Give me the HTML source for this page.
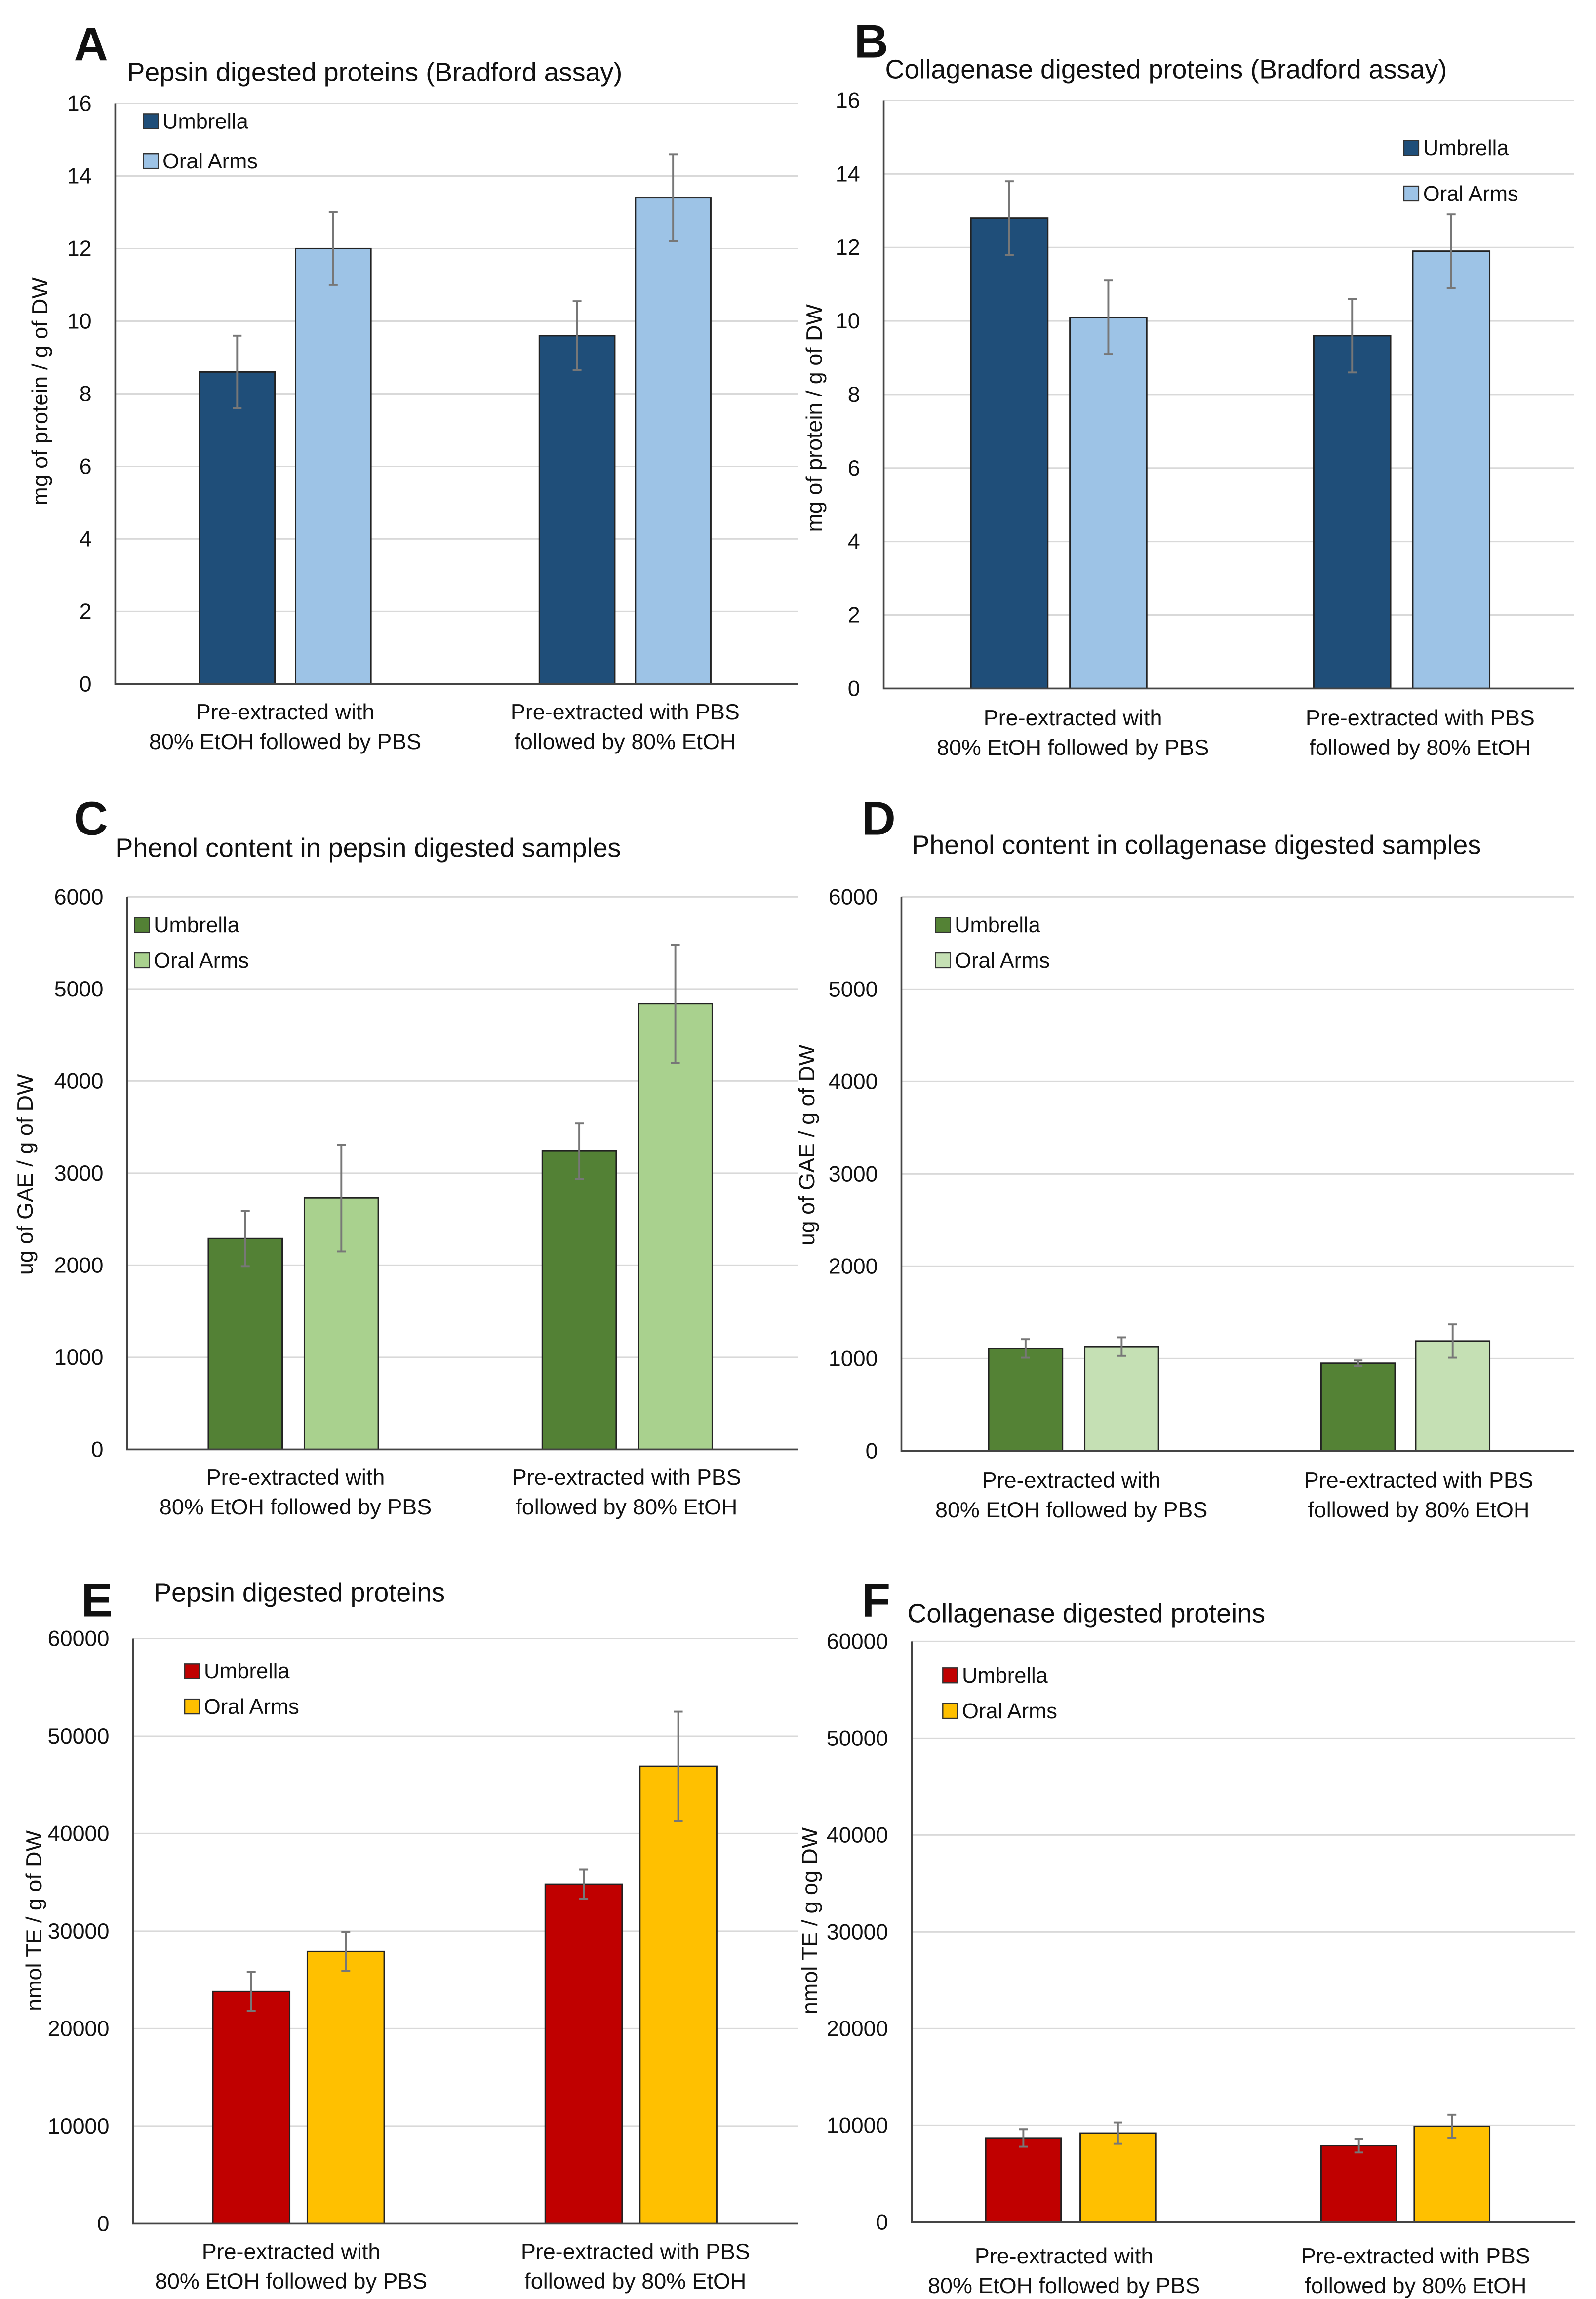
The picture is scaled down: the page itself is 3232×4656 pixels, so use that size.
<!DOCTYPE html>
<html><head><meta charset="utf-8"><style>html,body{margin:0;padding:0;background:#fff}svg{display:block}text{font-family:"Liberation Sans",sans-serif;fill:#111}</style></head>
<body>
<svg id="fig" width="3232" height="4656" viewBox="0 0 1080 1556" preserveAspectRatio="none" xmlns="http://www.w3.org/2000/svg"></svg>
<script>
// Data arrays
const categories = ["Pre-extracted with|80% EtOH followed by PBS", "Pre-extracted with PBS|followed by 80% EtOH"];
const seriesNames = ["Umbrella", "Oral Arms"];
const aUmbrella = [8.6, 9.6];       const aUmbrellaErr = [1.0, 0.95];
const aOral = [12.0, 13.4];         const aOralErr = [1.0, 1.2];
const bUmbrella = [12.8, 9.6];      const bUmbrellaErr = [1.0, 1.0];
const bOral = [10.1, 11.9];         const bOralErr = [1.0, 1.0];
const cUmbrella = [2290, 3240];     const cUmbrellaErr = [300, 300];
const cOral = [2730, 4840];         const cOralErr = [580, 640];
const dUmbrella = [1110, 950];      const dUmbrellaErr = [100, 30];
const dOral = [1130, 1190];         const dOralErr = [100, 180];
const eUmbrella = [23800, 34800];   const eUmbrellaErr = [2000, 1500];
const eOral = [27900, 46900];       const eOralErr = [2000, 5600];
const fUmbrella = [8700, 7900];     const fUmbrellaErr = [900, 700];
const fOral = [9200, 9900];         const fOralErr = [1100, 1200];
const ticksProtein = [0, 2, 4, 6, 8, 10, 12, 14, 16];
const ticksPhenol = [0, 1000, 2000, 3000, 4000, 5000, 6000];
const ticksTE = [0, 10000, 20000, 30000, 40000, 50000, 60000];

const NS = "http://www.w3.org/2000/svg";
const svg = document.getElementById('fig');
function el(tag, attrs, parent, txt) {
  const e = document.createElementNS(NS, tag);
  for (const k in attrs) e.setAttribute(k, attrs[k]);
  if (txt !== undefined) e.textContent = txt;
  (parent || svg).appendChild(e);
  return e;
}

const panels = [
  {id:"a", letter:"A", lx:50, ly:41, title:"Pepsin digested proteins (Bradford assay)", tx:86, ty:55,
   x0:78, x1:540, yTop:70, yBot:463, ticks:ticksProtein, max:16, ylab:"mg of protein / g of DW", ylx:32, yly:265,
   u:aUmbrella, ue:aUmbrellaErr, o:aOral, oe:aOralErr, bars:[[135,200],[365,430]], bw:51,
   cu:"#1F4E79", co:"#9DC3E6", legX:102, legY:[82,109], catX:[193,423], catY:485},
  {id:"b", letter:"B", lx:578, ly:39, title:"Collagenase digested proteins (Bradford assay)", tx:599, ty:53,
   x0:598, x1:1065, yTop:68, yBot:466, ticks:ticksProtein, max:16, ylab:"mg  of protein / g of DW", ylx:556, yly:283,
   u:bUmbrella, ue:bUmbrellaErr, o:bOral, oe:bOralErr, bars:[[657,724],[889,956]], bw:52,
   cu:"#1F4E79", co:"#9DC3E6", legX:955, legY:[100,131], catX:[726,961], catY:489},
  {id:"c", letter:"C", lx:50, ly:565, title:"Phenol content in pepsin digested samples", tx:78, ty:580,
   x0:86, x1:540, yTop:607, yBot:981, ticks:ticksPhenol, max:6000, ylab:"ug of GAE / g of DW", ylx:22, yly:795,
   u:cUmbrella, ue:cUmbrellaErr, o:cOral, oe:cOralErr, bars:[[141,206],[367,432]], bw:50,
   cu:"#538135", co:"#A9D18E", legX:96, legY:[626,650], catX:[200,424], catY:1003},
  {id:"d", letter:"D", lx:583, ly:565, title:"Phenol content in collagenase digested samples", tx:617, ty:578,
   x0:610, x1:1065, yTop:607, yBot:982, ticks:ticksPhenol, max:6000, ylab:"ug of GAE / g of DW", ylx:551, yly:775,
   u:dUmbrella, ue:dUmbrellaErr, o:dOral, oe:dOralErr, bars:[[669,734],[894,958]], bw:50,
   cu:"#548235", co:"#C5E0B4", legX:638, legY:[626,650], catX:[725,960], catY:1005},
  {id:"e", letter:"E", lx:55, ly:1094, title:"Pepsin digested proteins", tx:104, ty:1084,
   x0:90, x1:540, yTop:1109, yBot:1505, ticks:ticksTE, max:60000, ylab:"nmol TE / g of DW", ylx:28, yly:1300,
   u:eUmbrella, ue:eUmbrellaErr, o:eOral, oe:eOralErr, bars:[[144,208],[369,433]], bw:52,
   cu:"#C00000", co:"#FFC000", legX:130, legY:[1131,1155], catX:[197,430], catY:1527},
  {id:"f", letter:"F", lx:583, ly:1094, title:"Collagenase digested proteins", tx:614, ty:1098,
   x0:617, x1:1066, yTop:1111, yBot:1504, ticks:ticksTE, max:60000, ylab:"nmol TE /  g og DW", ylx:553, yly:1300,
   u:fUmbrella, ue:fUmbrellaErr, o:fOral, oe:fOralErr, bars:[[667,731],[894,957]], bw:51,
   cu:"#C00000", co:"#FFC000", legX:643, legY:[1134,1158], catX:[720,958], catY:1530}
];

panels.forEach(p => {
  const g = el('g', {});
  
  
  const y = v => p.yBot - (v / p.max) * (p.yBot - p.yTop);
  const L = el('text', {x:p.lx, y:p.ly, 'font-size':32, 'font-weight':'bold'}, g, p.letter);
  
  
  const T = el('text', {x:p.tx, y:p.ty, 'font-size':18}, g, p.title);
  
  
  p.ticks.forEach(t => {
    if (t > 0) {
      const gl = el('line', {x1:p.x0, x2:p.x1, y1:y(t), y2:y(t), stroke:'#d9d9d9', 'stroke-width':1}, g);
      
      
    }
    const tl = el('text', {x:p.x0 - 16, y:y(t) + 5, 'font-size':15, 'text-anchor':'end'}, g, String(t));
    
    
  });
  const yt = el('text', {x:p.ylx, y:p.yly, 'font-size':15, 'text-anchor':'middle', transform:`rotate(-90 ${p.ylx} ${p.yly})`}, g, p.ylab);
  
  
  [0, 1].forEach(i => {
    [[p.u, p.ue, p.cu, 'umbrella'], [p.o, p.oe, p.co, 'oral-arms']].forEach((s, j) => {
      const bx = p.bars[i][j];
      const r = el('rect', {x:bx, y:y(s[0][i]), width:p.bw, height:p.yBot - y(s[0][i]), fill:s[2], stroke:'#222', 'stroke-width':1}, g);
      
      
      const cx = bx + p.bw / 2;
      const hi = y(s[0][i] + s[1][i]), lo = y(s[0][i] - s[1][i]);
      const eb = el('path', {d:`M${cx},${hi}V${lo}M${cx-3},${hi}H${cx+3}M${cx-3},${lo}H${cx+3}`, stroke:'#777', 'stroke-width':1.3, fill:'none'}, g);
      
      
    });
    const lines = categories[i].split('|');
    lines.forEach((ln, k) => {
      const ct = el('text', {x:p.catX[i], y:p.catY + k * 20 + 2, 'font-size':15, 'text-anchor':'middle'}, g, ln);
      
      
    });
  });
  const ax = el('path', {d:`M${p.x0},${p.yTop}V${p.yBot}H${p.x1}`, stroke:'#444', 'stroke-width':1.2, fill:'none'}, g);
  
  
  [p.cu, p.co].forEach((c, j) => {
    const le = el('g', {}, g);
    
    
    el('rect', {x:p.legX - 5, y:p.legY[j] - 5, width:10, height:10, fill:c, stroke:'#333', 'stroke-width':0.8}, le);
    el('text', {x:p.legX + 8, y:p.legY[j] + 5, 'font-size':14.5}, le, seriesNames[j]);
  });
});
</script>
</body></html>
